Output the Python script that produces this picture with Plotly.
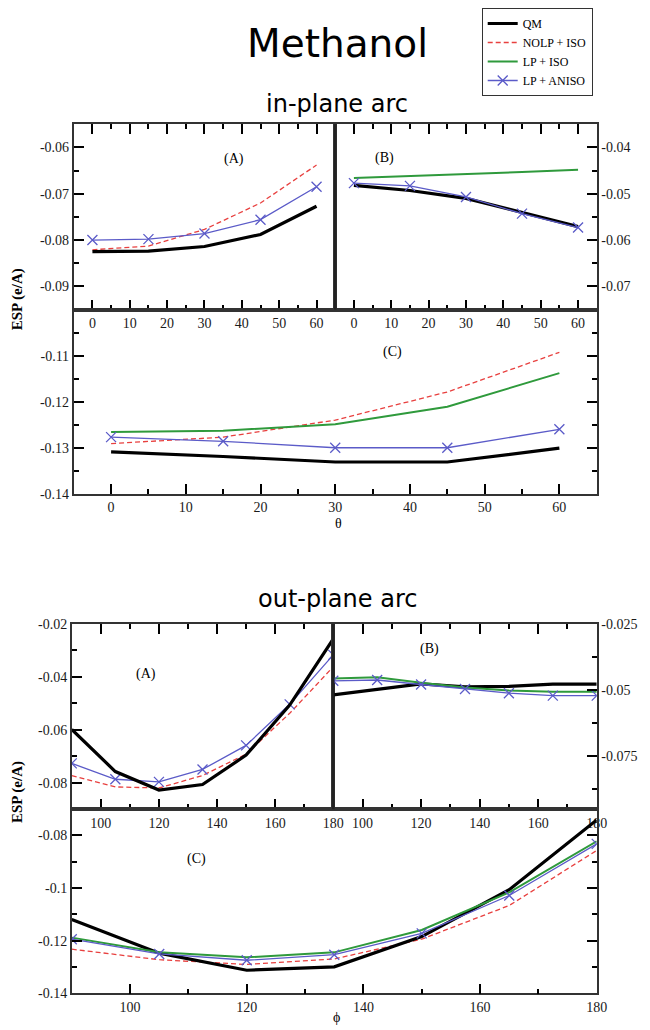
import plotly.graph_objects as go

# ---- angles ----
theta = [0, 15, 30, 45, 60]
phi = [90, 105, 120, 135, 150, 165, 180]

# ---- in-plane arc (ESP, e/A) ----
qm_in_A = [-0.0825, -0.0824, -0.0814, -0.0788, -0.0727]
nolp_in_A = [-0.0821, -0.0813, -0.0777, -0.0720, -0.0638]
aniso_in_A = [-0.0800, -0.0798, -0.0786, -0.0756, -0.0685]

qm_in_B = [-0.0482, -0.0493, -0.0510, -0.0541, -0.0571]
lpiso_in_B = [-0.0466, -0.0462, -0.0458, -0.0453, -0.0448]
aniso_in_B = [-0.0477, -0.0483, -0.0507, -0.0543, -0.0573]

qm_in_C = [-0.1309, -0.1319, -0.1331, -0.1331, -0.1301]
nolp_in_C = [-0.1291, -0.1277, -0.1240, -0.1179, -0.1093]
lpiso_in_C = [-0.1266, -0.1263, -0.1249, -0.1211, -0.1138]
aniso_in_C = [-0.1277, -0.1286, -0.1300, -0.1300, -0.1260]

# ---- out-plane arc (ESP, e/A) ----
qm_out_A = [-0.0599, -0.0758, -0.0828, -0.0807, -0.0696, -0.0507, -0.0257]
nolp_out_A = [-0.0773, -0.0816, -0.0820, -0.0773, -0.0692, -0.0538, -0.0362]
aniso_out_A = [-0.0727, -0.0787, -0.0797, -0.0750, -0.0659, -0.0504, -0.0317]

qm_out_B = [-0.0518, -0.0498, -0.0477, -0.0488, -0.0486, -0.0478, -0.0478]
lpiso_out_B = [-0.0456, -0.0452, -0.0472, -0.0490, -0.0502, -0.0506, -0.0506]
aniso_out_B = [-0.0465, -0.0462, -0.0479, -0.0496, -0.0512, -0.0521, -0.0521]

qm_out_C = [-0.1119, -0.1247, -0.1312, -0.1299, -0.1184, -0.1006, -0.0741]
nolp_out_C = [-0.1232, -0.1272, -0.1290, -0.1269, -0.1194, -0.1066, -0.0857]
lpiso_out_C = [-0.1188, -0.1244, -0.1263, -0.1244, -0.1159, -0.1016, -0.0822]
aniso_out_C = [-0.1194, -0.1250, -0.1274, -0.1253, -0.1172, -0.1028, -0.0832]

# ---- tick labels ----
theta_ticks = [0, 10, 20, 30, 40, 50, 60]
phi_ticks = [100, 120, 140, 160, 180]
in_A_yticks = [-0.06, -0.07, -0.08, -0.09]
in_B_yticks = [-0.04, -0.05, -0.06, -0.07]
in_C_yticks = [-0.11, -0.12, -0.13, -0.14]
out_A_yticks = [-0.02, -0.04, -0.06, -0.08]
out_B_yticks = [-0.025, -0.05, -0.075]
out_C_yticks = [-0.08, -0.1, -0.12, -0.14]

W, H = 650, 1030
AX = "#333333"
TICK = "black"
SERIF = "Liberation Serif"

STYLE = {
    "QM": dict(line=dict(color="black", width=3.2), mode="lines"),
    "NOLP + ISO": dict(line=dict(color="#e8403f", width=1.3, dash="5px,3px"), mode="lines"),
    "LP + ISO": dict(line=dict(color="#2f9a3c", width=2), mode="lines"),
    "LP + ANISO": dict(line=dict(color="#5b5bc8", width=1.3), mode="lines+markers",
                       marker=dict(symbol="x-thin", size=10,
                                   line=dict(color="#5b5bc8", width=1.3))),
}


def dx(a, b):
    return [a / W, b / W]


def dy(top, bottom):
    return [1 - bottom / H, 1 - top / H]


fig = go.Figure()


def add(name, x, y, ax, legend=False):
    sfx = "" if ax == 1 else str(ax)
    fig.add_trace(go.Scatter(x=x, y=y, name=name, showlegend=legend,
                             xaxis="x" + sfx, yaxis="y" + sfx, **STYLE[name]))


# in-plane
add("NOLP + ISO", theta, nolp_in_A, 1)
add("LP + ANISO", theta, aniso_in_A, 1)
add("QM", theta, qm_in_A, 1)

add("LP + ISO", theta, lpiso_in_B, 2)
add("QM", theta, qm_in_B, 2)
add("LP + ANISO", theta, aniso_in_B, 2)

add("QM", theta, qm_in_C, 3, True)
add("NOLP + ISO", theta, nolp_in_C, 3, True)
add("LP + ISO", theta, lpiso_in_C, 3, True)
add("LP + ANISO", theta, aniso_in_C, 3, True)

# out-plane
add("NOLP + ISO", phi, nolp_out_A, 4)
add("LP + ANISO", phi, aniso_out_A, 4)
add("QM", phi, qm_out_A, 4)

add("QM", phi, qm_out_B, 5)
add("LP + ISO", phi, lpiso_out_B, 5)
add("LP + ANISO", phi, aniso_out_B, 5)

add("NOLP + ISO", phi, nolp_out_C, 6)
add("QM", phi, qm_out_C, 6)
add("LP + ISO", phi, lpiso_out_C, 6)
add("LP + ANISO", phi, aniso_out_C, 6)


def axis(domain, rng, ticks, minor_dtick, anchor, mirror, side=None):
    d = dict(domain=domain, range=rng, anchor=anchor,
             tickmode="array", tickvals=ticks, ticktext=[str(t) for t in ticks],
             ticks="inside", ticklen=10, tickwidth=2, tickcolor=TICK,
             tickfont=dict(family=SERIF, size=14, color="#1a1a1a"),
             showline=True, linecolor=AX, linewidth=1.6, mirror=mirror,
             showgrid=False, zeroline=False,
             minor=dict(dtick=minor_dtick, tick0=0, ticks="inside",
                        ticklen=5, tickwidth=2, tickcolor=TICK))
    if side:
        d["side"] = side
    return d


# panel geometry (pixels)
T_TOP, T_MID, T_BOT = 119, 307, 494
B_TOP, B_MID, B_BOT = 626, 814, 1001
XL, XM, XR = 75, 341, 607
XL2, XM2 = 73, 339


def text(x, y, s, size, family="DejaVu Sans", angle=0, bold=False):
    return dict(x=x / W, y=1 - y / H, xref="paper", yref="paper",
                text=("<b>%s</b>" % s) if bold else s,
                showarrow=False, xanchor="center", yanchor="middle", textangle=angle,
                font=dict(family=family, size=size, color="black"))


annotations = [
    text(343, 37, "Methanol", 39),
    text(343, 98, "in-plane arc", 24),
    text(343, 601, "out-plane arc", 24),
    text(18, 297, "ESP (e/A)", 15, SERIF, -90, True),
    text(18, 797, "ESP (e/A)", 15, SERIF, -90, True),
    text(344, 524, "θ", 14, SERIF),
    text(342, 1025, "ϕ", 14, SERIF),
    text(238, 154, "(A)", 14, SERIF),
    text(391, 153, "(B)", 14, SERIF),
    text(399, 350, "(C)", 14, SERIF),
    text(149, 677, "(A)", 14, SERIF),
    text(437, 651, "(B)", 14, SERIF),
    text(200, 865, "(C)", 14, SERIF),
]

# thick separators between panels A and B
shapes = [
    dict(type="line", xref="paper", yref="paper", x0=XM / W, x1=XM / W,
         y0=1 - T_MID / H, y1=1 - T_TOP / H, line=dict(color="#222222", width=2.4)),
    dict(type="line", xref="paper", yref="paper", x0=XM2 / W, x1=XM2 / W,
         y0=1 - B_MID / H, y1=1 - B_TOP / H, line=dict(color="#222222", width=2.4)),
]

fig.update_layout(
    width=W, height=H,
    margin=dict(l=0, r=0, t=0, b=0),
    paper_bgcolor="white", plot_bgcolor="white",
    annotations=annotations, shapes=shapes,
    legend=dict(x=490 / W, y=1 - 1 / H, xanchor="left", yanchor="top",
                bgcolor="white", bordercolor=AX, borderwidth=1,
                font=dict(family=SERIF, size=12, color="black"),
                itemwidth=30, tracegroupgap=0),
    xaxis=axis(dx(XL, XM), [-5, 65], theta_ticks, 5, "y", "allticks"),
    yaxis=axis(dy(T_TOP, T_MID), [-0.095, -0.055], in_A_yticks, 0.005, "x", True, "left"),
    xaxis2=axis(dx(XM, XR), [-5, 65], theta_ticks, 5, "y2", "allticks"),
    yaxis2=axis(dy(T_TOP, T_MID), [-0.075, -0.035], in_B_yticks, 0.005, "x2", True, "right"),
    xaxis3=axis(dx(XL, XR), [-5, 65], theta_ticks, 5, "y3", True),
    yaxis3=axis(dy(T_MID, T_BOT), [-0.14, -0.10], in_C_yticks, 0.005, "x3", "allticks", "left"),
    xaxis4=axis(dx(XL2, XM2), [90, 180], phi_ticks, 10, "y4", "allticks"),
    yaxis4=axis(dy(B_TOP, B_MID), [-0.09, -0.02], out_A_yticks, 0.01, "x4", True, "left"),
    xaxis5=axis(dx(XM2, XR), [90, 180], phi_ticks, 10, "y5", "allticks"),
    yaxis5=axis(dy(B_TOP, B_MID), [-0.095, -0.025], out_B_yticks, 0.0125, "x5", True, "right"),
    xaxis6=axis(dx(XL2, XR), [90, 180], phi_ticks, 10, "y6", True),
    yaxis6=axis(dy(B_MID, B_BOT), [-0.14, -0.07], out_C_yticks, 0.01, "x6", "allticks", "left"),
)

fig.write_html("out.html")
